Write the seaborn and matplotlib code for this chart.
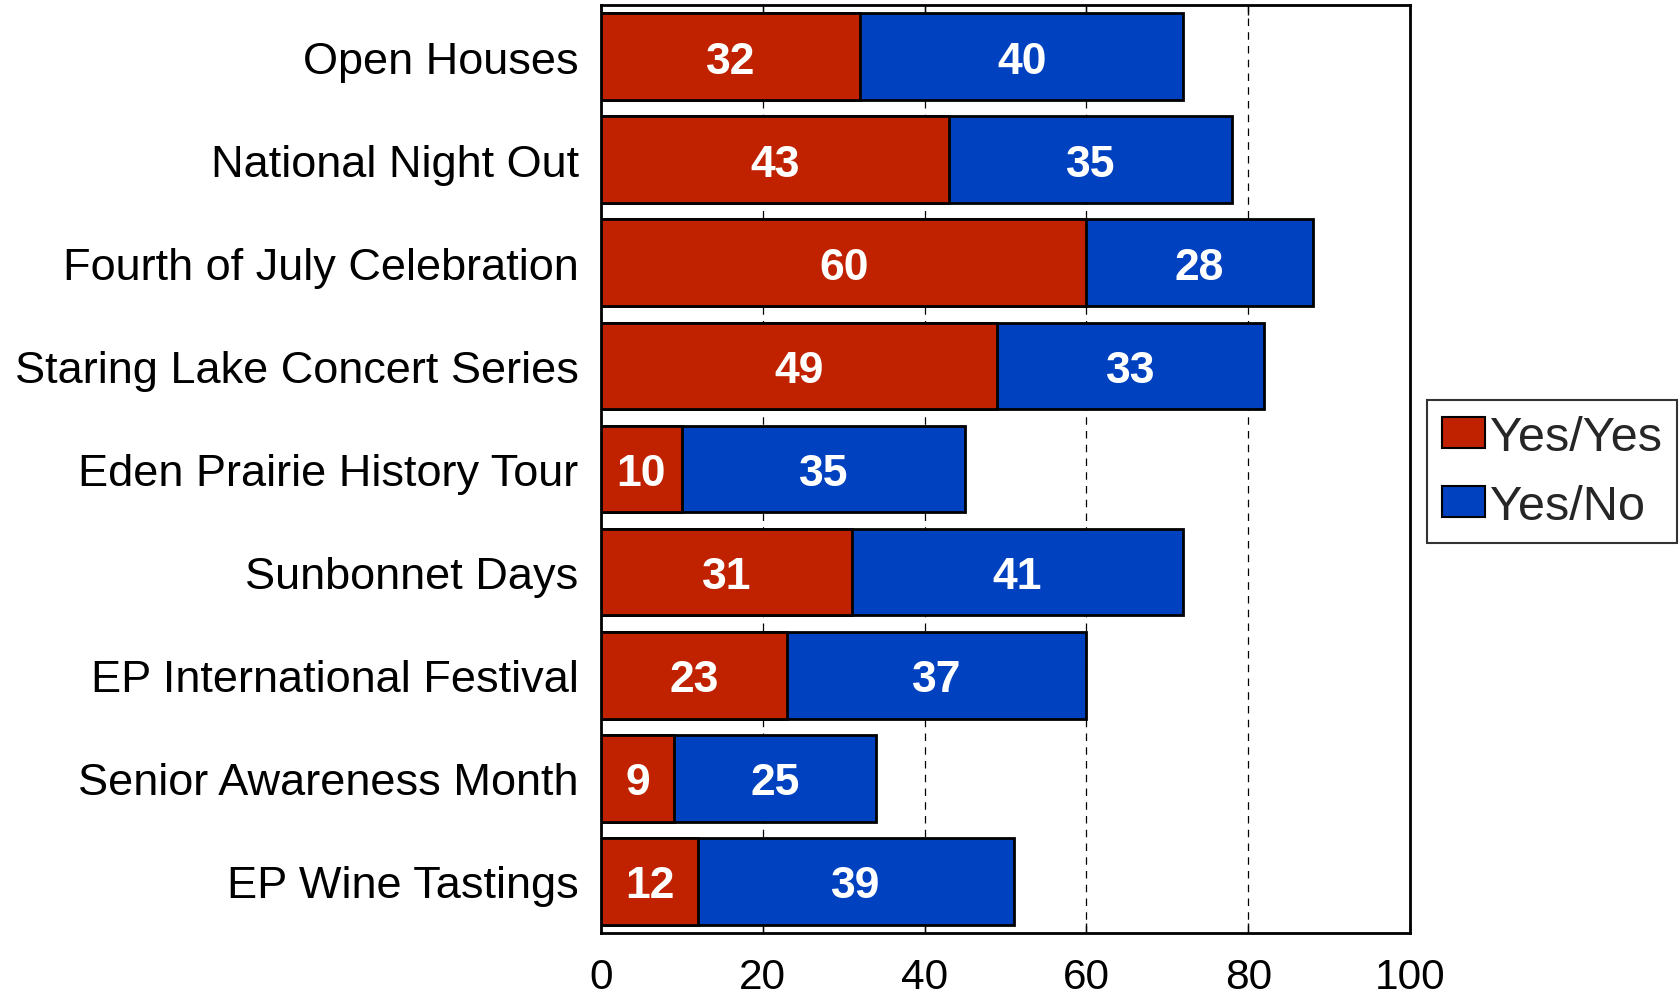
import numpy as np
import pandas as pd
import matplotlib
matplotlib.use("Agg")
import matplotlib.pyplot as plt
import seaborn as sns
from matplotlib.patches import Patch

sns.set_style("white")
plt.rcParams['font.family'] = ['Liberation Sans', 'DejaVu Sans']

# data
events = ["Open Houses", "National Night Out", "Fourth of July Celebration",
          "Staring Lake Concert Series", "Eden Prairie History Tour",
          "Sunbonnet Days", "EP International Festival",
          "Senior Awareness Month", "EP Wine Tastings"]
yes_yes = [32, 43, 60, 49, 10, 31, 23, 9, 12]
yes_no = [40, 35, 28, 33, 35, 41, 37, 25, 39]
xticks = [0, 20, 40, 60, 80, 100]

red = "#C02200"
blue = "#0041C0"

df = pd.DataFrame({"event": events, "yes_yes": yes_yes, "yes_no": yes_no})
df["total"] = df["yes_yes"] + df["yes_no"]

fig = plt.figure(figsize=(16.8, 9.95), dpi=100)
ax = fig.add_axes([0.3577, 0.0613, 0.8393 - 0.3577, 0.994 - 0.0613])

# stacked: draw totals in blue then yes/yes in red on top
sns.barplot(data=df, y="event", x="total", color=blue, saturation=1,
            width=0.84, edgecolor="black", linewidth=2, ax=ax, zorder=3)
sns.barplot(data=df, y="event", x="yes_yes", color=red, saturation=1,
            width=0.84, edgecolor="black", linewidth=2, ax=ax, zorder=4)

# segment labels
for i, row in df.iterrows():
    ax.text(row.yes_yes / 2, i, str(row.yes_yes), ha="center", va="center_baseline",
            color="white", fontsize=32, fontweight="bold", zorder=5)
    ax.text(row.yes_yes + row.yes_no / 2, i, str(row.yes_no), ha="center",
            va="center_baseline", color="white", fontsize=32, fontweight="bold", zorder=5)

ax.set_xlim(0, 100)
ax.set_xticks(xticks)
ax.set_xlabel("")
ax.set_ylabel("")
for x in xticks[1:-1]:
    ax.axvline(x, color="black", linestyle=(0, (6, 5)), linewidth=0.9, zorder=1)

ax.tick_params(axis="x", direction="in", top=True, bottom=True, length=7,
               width=1, labelsize=30.5, pad=17, colors="black")
ax.tick_params(axis="y", length=0, labelsize=32.5, pad=16, colors="black")
for s in ax.spines.values():
    s.set_visible(True)
    s.set_color("black")
    s.set_linewidth(2)

handles = [Patch(facecolor=red, edgecolor="black", linewidth=1.5, label="Yes/Yes"),
           Patch(facecolor=blue, edgecolor="black", linewidth=1.5, label="Yes/No")]
leg = fig.legend(handles=handles, loc="upper left", bbox_to_anchor=(1427 / 1680, 1 - 401 / 995),
                 fontsize=35, frameon=True, fancybox=False, edgecolor="black",
                 handlelength=0.9, handleheight=0.6, handletextpad=0.1,
                 borderpad=0.3, labelspacing=0.5, borderaxespad=0)
leg.get_frame().set_linewidth(1.5)

fig.savefig("out.png", dpi=100)
